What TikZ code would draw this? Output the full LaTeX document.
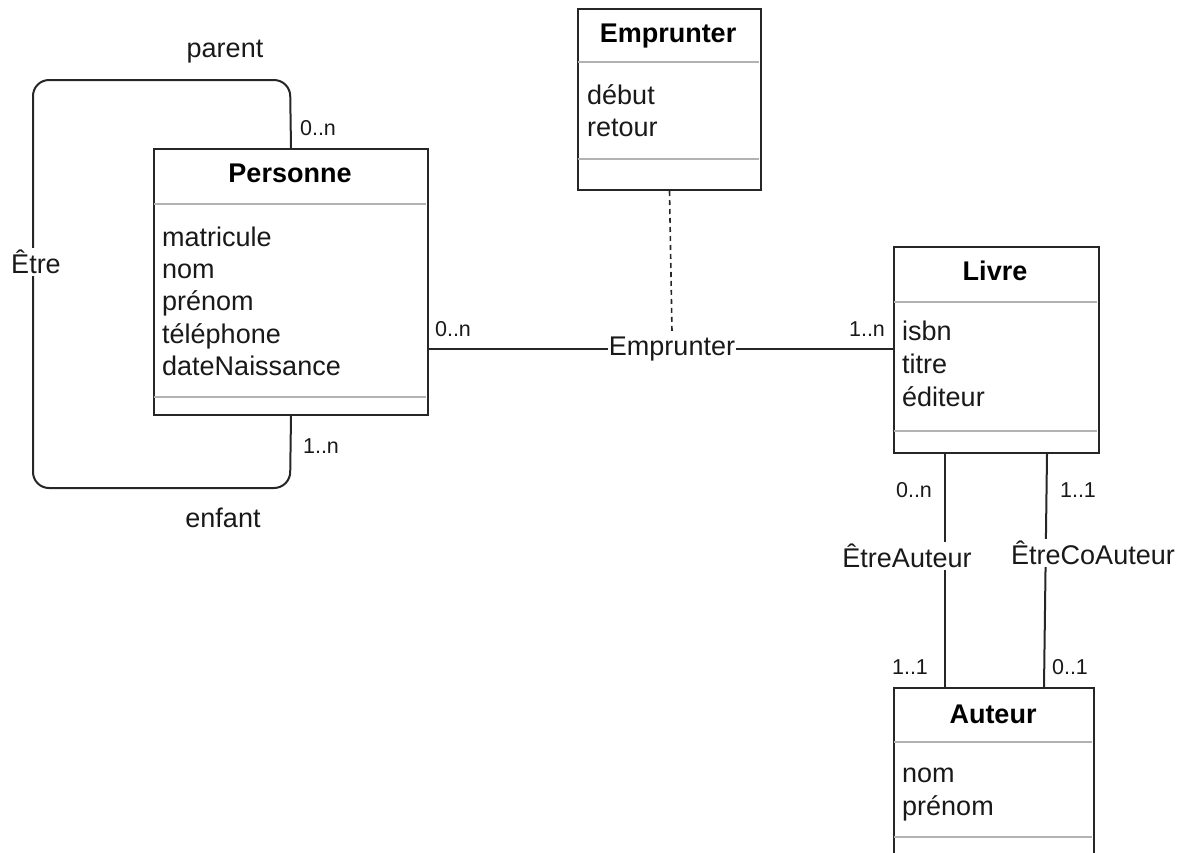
\documentclass[tikz,border=0pt]{standalone}
\usepackage{fontspec}
\setmainfont{Liberation Sans}
\begin{document}
\begin{tikzpicture}[x=1pt,y=-1pt,
  box/.style={draw=black!85, line width=2pt, fill=white, inner sep=0pt, anchor=north west},
  sepline/.style={draw=black!30, line width=1.2pt},
  conn/.style={draw=black!85, line width=2pt},
  txt/.style={font=\fontsize{27}{32}\selectfont, text=black!90, inner sep=0pt},
  attr/.style={txt, anchor=base west},
  ttl/.style={font=\fontsize{27}{32}\selectfont\bfseries, text=black, inner sep=0pt, anchor=base},
  card/.style={font=\fontsize{21.5}{24}\selectfont, text=black!90, inner sep=0pt},
  lbl/.style={txt, fill=white, inner sep=2pt}]
\useasboundingbox (0,0) rectangle (1185,852);
\begin{scope}
\clip (0,0) rectangle (1185,852);
% boxes
\node[box, minimum width=274pt, minimum height=266pt] (P) at (153,148) {};
\node[box, minimum width=183pt, minimum height=181pt] (E) at (577,8) {};
\node[box, minimum width=205pt, minimum height=206pt] (L) at (893,246) {};
\node[box, minimum width=200pt, minimum height=190pt] (A) at (893,687) {};
% separators
\draw[sepline] (154,204) -- (426,204) (154,397) -- (426,397);
\draw[sepline] (578,62) -- (759,62) (578,159) -- (759,159);
\draw[sepline] (894,302) -- (1097,302) (894,431) -- (1097,431);
\draw[sepline] (894,742) -- (1092,742) (894,837) -- (1092,837);
\end{scope}
% titles
\node[ttl] (Pt) at (290,182) {Personne};
\node[ttl] (Et) at (668,42) {Emprunter};
\node[ttl] (Lt) at (995,280) {Livre};
\node[ttl] (At) at (993,723) {Auteur};
% attributes
\node[attr] (p1) at (162,246) {matricule};
\node[attr] (p2) at (162,278) {nom};
\node[attr] (p3) at (162,310) {prénom};
\node[attr] (p4) at (162,343) {téléphone};
\node[attr] (p5) at (162,375) {dateNaissance};
\node[attr] (e1) at (587,104) {début};
\node[attr] (e2) at (587,136) {retour};
\node[attr] (l1) at (902,340) {isbn};
\node[attr] (l2) at (902,373) {titre};
\node[attr] (l3) at (902,406) {éditeur};
\node[attr] (a1) at (902,782) {nom};
\node[attr] (a2) at (902,815) {prénom};
% self loop Etre
\draw[conn, rounded corners=16pt] (P.north) -- (290,80) -- (33,80) -- (33,488) -- (290,488) -- (P.south);
\node[lbl] (etre) at (36,262) {Être};
\node[txt, anchor=base] (parent) at (225,57) {parent};
\node[txt, anchor=base] (enfant) at (223,527) {enfant};
\node[card] (c1) at (318,128) {0..n};
\node[card] (c2) at (321,446) {1..n};
% Emprunter association
\node[txt, inner sep=1pt] (asc) at (672,349) {Emprunter};
\draw[conn] (P.east |- asc) -- (asc.west);
\draw[conn] (asc.east) -- (L.west |- asc);
\draw[conn, line width=1.6pt, dash pattern=on 5pt off 4pt] (E.south) -- ([yshift=4pt]asc.north);
\node[card] (c3) at (453,329) {0..n};
\node[card] (c4) at (867,329) {1..n};
% EtreAuteur
\draw[conn] ([xshift=52pt]L.south west) -- ([xshift=52pt]A.north west);
\node[lbl] (ea) at (907,556) {ÊtreAuteur};
\node[card] (c5) at (914,490) {0..n};
\node[card] (c6) at (910,667) {1..1};
% EtreCoAuteur
\draw[conn] ([xshift=154pt]L.south west) -- ([xshift=151pt]A.north west);
\node[lbl] (eca) at (1093,553) {ÊtreCoAuteur};
\node[card] (c7) at (1078,490) {1..1};
\node[card] (c8) at (1070,667) {0..1};
\end{tikzpicture}
\end{document}
